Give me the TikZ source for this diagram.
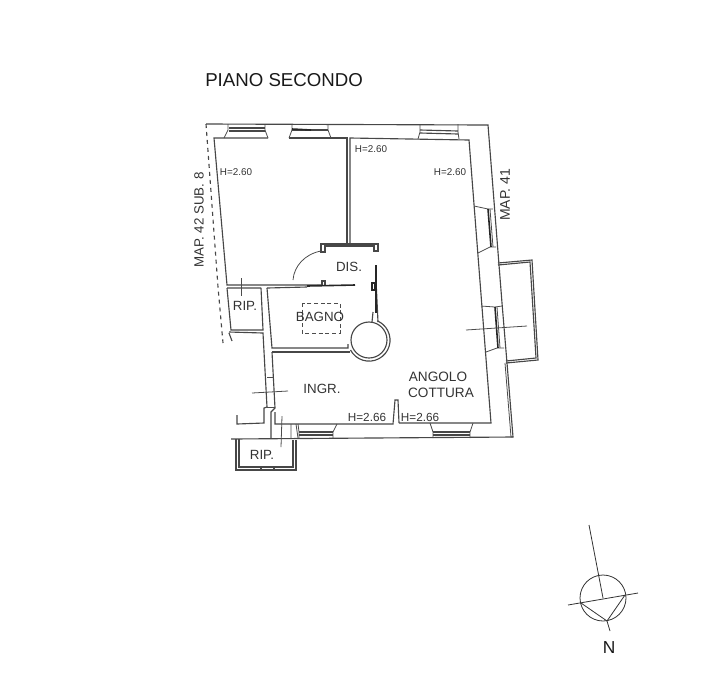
\documentclass[tikz,border=0pt]{standalone}
\usepackage{fontspec}
\setmainfont{Liberation Sans}
\tikzset{
  wall/.style={line width=.85pt,draw=black!72},
  fine/.style={line width=.6pt,draw=black!70},
  heavy/.style={line width=1.2pt,draw=black!85},
  label/.style={inner sep=0pt,text=black!80,font=\fontsize{10}{12}\selectfont},
  small/.style={label,font=\fontsize{7.4}{9}\selectfont},
  height/.style={label,font=\fontsize{8.8}{10}\selectfont}
}
\begin{document}
\begin{tikzpicture}[x=.75pt,y=-.75pt]
\useasboundingbox (0,0) rectangle (727,683);
% Titolo
\node[label,font=\fontsize{14}{16}\selectfont,text=black!90,anchor=west] (titolo) at (205,80) {PIANO SECONDO};
% Confine esterno
\draw[wall,dashed] (206,124) -- (218,287) -- (223,343);
\draw[wall] (206,124) -- (488,125) -- (502,303) -- (507,363) -- (513,437) -- (231,439);
\draw[fine] (505,363) -- (511,437) -- (513,437);
% Stanza a sinistra
\draw[wall] (268,138) -- (214,138) -- (227,285) -- (322,285);
\draw[wall] (289,138) -- (347,138) -- (347,243);
\draw[wall] (350,243) -- (350,138) -- (469,140) -- (491,423) -- (399,423);
% Finestre in alto
\draw[fine] (228,124) -- (228,130) -- (224,138) (265,124) -- (265,130) -- (268,138);
\draw[wall] (229,128) -- (265,128) (229,131) -- (265,131);
\draw[fine] (292,124) -- (292,130) -- (289,138) (328,124) -- (328,130) -- (331,138);
\draw[wall] (292,130) -- (328,130);
\draw[heavy] (292,129) -- (311,130);
\draw[fine] (420,124) -- (420,132) -- (418,139) (458,124) -- (458,132) -- (459,139);
\draw[wall] (420,130) -- (458,131) (420,133) -- (458,134);
% Finestre a destra
\draw[fine] (474,206) -- (488,209) -- (493,209) (478,253) -- (490,247) -- (496,247);
\draw[heavy] (488,209) -- (491,247);
\draw[fine] (490,209) -- (493,247);
\draw[fine] (481,306) -- (495,307) -- (502,306) (486,352) -- (497,348) -- (504,348);
\draw[heavy] (495,307) -- (498,348);
\draw[fine] (497,307) -- (500,348);
\draw[fine] (466,330) -- (527,326);
% Balcone
\draw[wall] (498,263) -- (532,260) -- (538,360) -- (506,363);
\draw[wall] (498,265) -- (530,262) -- (536,358) -- (506,361);
% Disimpegno
\draw[wall] (321,252) -- (321,244) -- (378,244) -- (378,251) -- (374,251) -- (374,246) -- (325,246) -- (325,252) -- cycle;
\draw[fine] (321,251) .. controls (305,254) and (294,266) .. (293,280);
\draw[wall] (322,285) -- (322,281) -- (325,281) -- (325,285);
\draw[heavy] (307,286) -- (355,285);
\draw[wall] (227,288) -- (261,288) (267,288) -- (307,287);
% Ripostiglio
\draw[wall] (227,288) -- (231,330) -- (263,330) -- (261,288);
\draw[fine] (241,278) -- (241,296);
% Bagno
\draw[wall] (267,288) -- (272,348) -- (348,348) -- (348,344);
\draw[wall] (272,352) -- (350,352);
\draw[fine,densely dashed] (302,303) rectangle (340,333);
% Colonna
\draw[wall] (369,340) circle (18);
\draw[wall] (350.5,350) arc (152:-67:21);
\draw[wall] (378,322) -- (376,280);
\draw[wall] (373,312) -- (372,322);
\draw[heavy] (376,265) -- (376,313);
\draw[heavy] (372,283) rectangle (375,290);
% Ingresso
\draw[wall] (229,333) -- (232,341);
\draw[wall] (229,332) -- (263,333) -- (267,407) -- (264,408) -- (264,423) -- (237,424) -- (237,415);
\draw[wall] (272,352) -- (275,408) -- (271,412) -- (271,438);
\draw[wall] (275,412) -- (275,424) -- (393,424) -- (395,400) -- (398,400) -- (399,423);
\draw[fine] (252,393) -- (288,391);
\draw[fine] (267,377) -- (273,377) (267,407) -- (275,407);
\draw[fine] (282,416) -- (281,447);
\draw[fine] (291,424) -- (291,438) (296,424) -- (298,438);
% Finestre in basso
\draw[fine] (298,424) -- (299,432) -- (299,438) (337,424) -- (333,432) -- (333,438);
\draw[wall] (299,432) -- (333,432) (299,435) -- (333,435);
\draw[fine] (430,423) -- (433,432) -- (433,438) (473,423) -- (470,432) -- (470,438);
\draw[wall] (433,432) -- (470,432) (433,435) -- (470,435);
% Ripostiglio in basso
\draw[wall] (239,439) -- (239,467) -- (293,467) -- (293,440);
\draw[wall] (236,439) -- (236,470) -- (296,470) -- (296,440);
\draw[wall] (261,467) rectangle (274,470);
% Nord
\draw[fine,draw=black!80] (603,598) circle (23);
\draw[fine,draw=black!80] (589,525) -- (603,598);
\draw[fine,draw=black!80] (568,605) -- (638,593);
\draw[fine,draw=black!80] (581,603) -- (607,621) -- (625,595);
\draw[fine,draw=black!80] (607,621) -- (610,631);
\node[label,font=\fontsize{13}{15}\selectfont,text=black!90] (nord) at (609,648) {N};
% Scritte
\node[small] (h1) at (236,172) {H=2.60};
\node[small] (h2) at (371,149) {H=2.60};
\node[small] (h3) at (450,172) {H=2.60};
\node[label] (dis) at (349,267) {DIS.};
\node[label] (rip1) at (245,306) {RIP.};
\node[label] (bagno) at (320,317) {BAGNO};
\node[label] (ingr) at (322,389) {INGR.};
\node[label,font=\fontsize{10.2}{12}\selectfont] (angolo) at (438,377) {ANGOLO};
\node[label,font=\fontsize{10.2}{12}\selectfont] (cottura) at (441,393) {COTTURA};
\node[height] (h4) at (367,417) {H=2.66};
\node[height] (h5) at (420,417) {H=2.66};
\node[label] (rip2) at (262,455) {RIP.};
\node[label,font=\fontsize{10}{12}\selectfont,rotate=90] (map42) at (199,220) {MAP. 42 SUB. 8};
\node[label,font=\fontsize{10.5}{12}\selectfont,rotate=90] (map41) at (505,195) {MAP. 41};
\end{tikzpicture}
\end{document}
